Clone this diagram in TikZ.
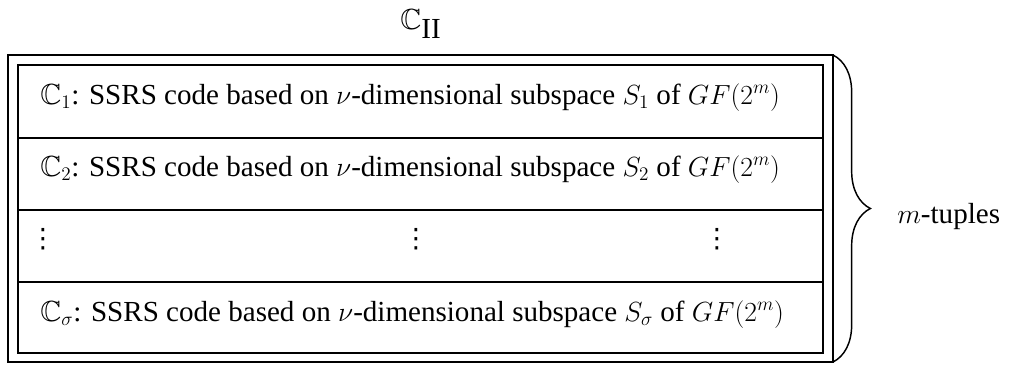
\documentclass[tikz,border=0pt]{standalone}
\usepackage{amssymb}
\usepackage{fontspec}
\setmainfont{Liberation Serif}
\newfontfamily\dotsfont{DejaVu Sans}
\usetikzlibrary{decorations.pathreplacing}
\tikzset{
  frame/.style={line width=1.3pt},
  sep/.style={line width=1.3pt},
  rowtext/.style={anchor=base west, inner sep=0pt},
  dotsnode/.style={inner sep=0pt, font=\dotsfont\fontsize{20}{24}\selectfont},
  bracestyle/.style={line width=1.1pt, decorate, decoration={brace, amplitude=28pt}}
}
\begin{document}
\begin{tikzpicture}[x=0.75pt,y=-0.75pt, font=\fontsize{21.8}{26}\selectfont]
\useasboundingbox (0,0) rectangle (1012,364);
% outer and inner frames
\coordinate (oTL) at (8,55);
\coordinate (oTR) at (833,55);
\coordinate (oBR) at (833,362);
\coordinate (iTL) at (18,65);
\coordinate (iBR) at (823,353);
\draw[frame] (oTL) rectangle (oBR);
\draw[frame] (iTL) rectangle (iBR);
% row separators
\coordinate (s1l) at (18,138); \coordinate (s1r) at (823,138);
\coordinate (s2l) at (18,210); \coordinate (s2r) at (823,210);
\coordinate (s3l) at (18,282); \coordinate (s3r) at (823,282);
\draw[sep] (s1l) -- (s1r);
\draw[sep] (s2l) -- (s2r);
\draw[sep] (s3l) -- (s3r);
% title
\node (title) at (421,24) {$\mathbb{C}_{\textrm{II}}$};
% rows
\node[rowtext] (r1) at (40,104) {$\mathbb{C}_1$: SSRS code based on $\nu$-dimensional subspace $S_1$ of $GF(2^m)$};
\node[rowtext] (r2) at (40,176) {$\mathbb{C}_2$: SSRS code based on $\nu$-dimensional subspace $S_2$ of $GF(2^m)$};
\node[dotsnode] (d1) at (43,239) {⋮};
\node[dotsnode] (d2) at (416,239) {⋮};
\node[dotsnode] (d3) at (717,239) {⋮};
\node[rowtext] (r4) at (40,321) {$\mathbb{C}_\sigma$: SSRS code based on $\nu$-dimensional subspace $S_\sigma$ of $GF(2^m)$};
% brace
\draw[bracestyle] (oTR) -- (oBR);
\node[anchor=base west, inner sep=0pt] (mt) at (897,223) {$m$-tuples};
\end{tikzpicture}
\end{document}
